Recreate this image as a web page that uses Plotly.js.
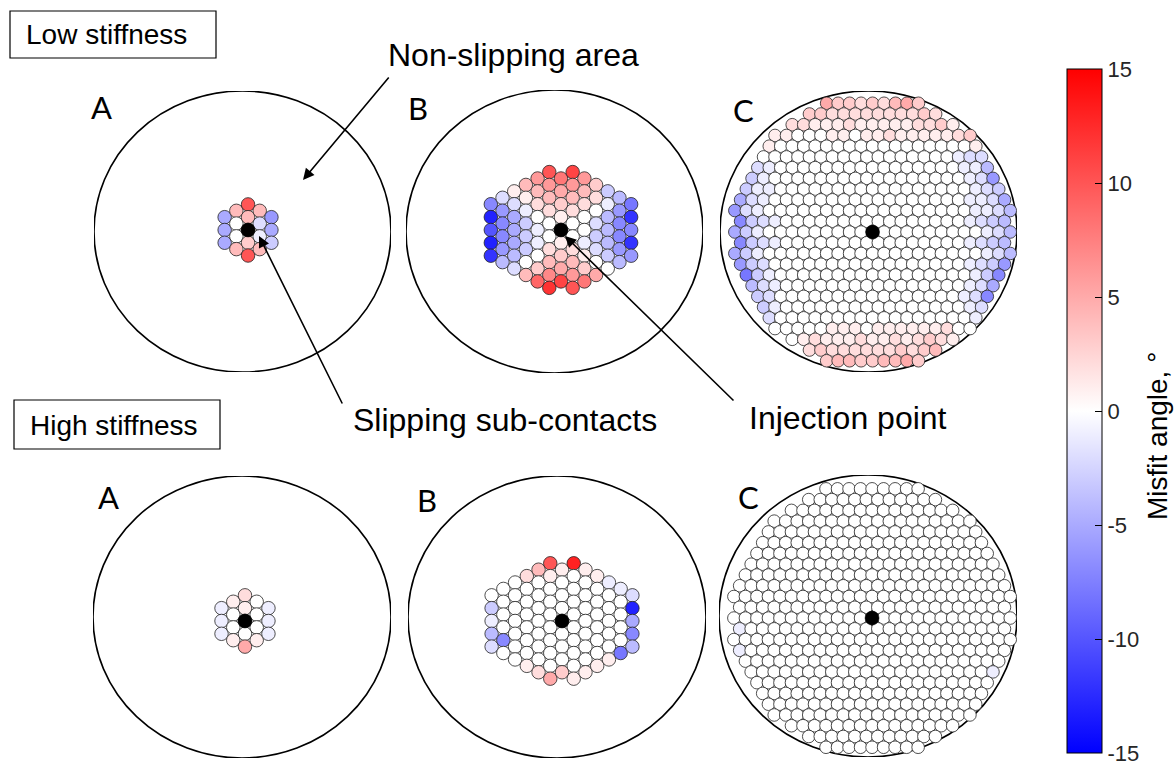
<!DOCTYPE html>
<html><head><meta charset="utf-8">
<script src="https://cdn.plot.ly/plotly-3.0.1.min.js"></script>
<style>html,body{margin:0;padding:0;background:#fff;}#chart{width:1175px;height:770px;}</style>
</head><body><div id="chart"></div>
<script>
// ================= DATA (misfit angle, degrees) =================
const misfitRange = [-15, 15];
const colorbarTicks = [-15, -10, -5, 0, 5, 10, 15];
const colorbarTickText = ['-15', '-10', '-5', '0', '5', '10', '15'];
const colorbarTitle = 'Misfit angle, °';
const panelLetters = ['A', 'B', 'C', 'A', 'B', 'C'];
const stiffnessLabels = ['Low stiffness', 'High stiffness'];
const calloutLabels = ['Non-slipping area', 'Slipping sub-contacts', 'Injection point'];

// Stage A: columns of sub-contacts (left -> right, each listed top -> bottom)
const aLowCols = [
  [-5, -5, -5],
  [4, 0, 0, 4],
  [10, 4, 0, 3, 10],
  [4, -2, -1, 4],
  [-6, -5, -3]
];
const aHighCols = [
  [-1, -1, -1],
  [1, 0, 0, 1],
  [2, 1, 0, 0, 5],
  [0, 0, 0, 1],
  [-1, -1, -1]
];

// Stage B: columns of sub-contacts (left -> right, each listed top -> bottom)
const bLowCols = [
  [-7, -13, -10, -13, -12],
  [-2, -6, -7, -7, -6, -4],
  [1, -2, -5, -5, -5, -4, -2],
  [4, 1, -1, -3, -3, -3, 0, 4],
  [6, 4, 2, 0, -1, -1, 0, 3, 9],
  [10, 6, 4, 2, 0, 0, 2, 4, 7, 12],
  [8, 5, 3, 1, 0, 1, 3, 5, 11],
  [11, 6, 4, 2, 0, 0, 2, 4, 6, 10],
  [6, 4, 2, 0, 0, -1, 1, 3, 8],
  [3, 2, 0, -2, -3, -2, 0, 5],
  [-3, -1, -4, -4, -4, -3, 0],
  [-4, -6, -7, -7, -6, -4],
  [-8, -12, -7, -12, -6]
];
const bHighCols = [
  [0, -3, -1, -4, -2],
  [0, 0, 0, 0, -7, 0],
  [0, 0, 0, 0, 0, 0, 0],
  [2, 0, 0, 0, 0, 0, 0, 1],
  [4, 0, 0, 0, 0, 0, 0, 0, 2],
  [10, 1, 0, 0, 0, 0, 0, 0, 0, 5],
  [1, 0, 0, 0, 0, 0, 0, 0, 3],
  [13, 0, 0, 0, 0, 0, 0, 0, 0, 1],
  [1, 0, 0, 0, 0, 0, 0, 0, 1],
  [1, 0, 0, 0, 0, 0, 0, 1],
  [-1, 0, 0, 0, 0, 0, 1],
  [-1, 0, 0, 0, 0, -8],
  [-2, -13, -5, -7, -4]
];

// Stage C: rows of sub-contacts (top -> bottom, each listed left -> right)
const cLowRows = [
  [5,3,3,2,3,2,4,5,3],
  [3,3,2,2,2,2,2,2,2,2,3,2],
  [2,2,1,1,1,2,1,1,1,1,1,2,2,3,1],
  [1,1,0,0,0,1,1,0,1,1,2,1,1,1,1,1,2,3],
  [1, 0,0,0,0, 0,0,0,0, 0,0,0,0, 0,0,0,0, 0, 1],
  [0,0,0,0, 0,0,0,0, 0,0,0,0, 0,0,0,0, 0, -1,-2,-2],
  [-2,-1, 0,0,0,0, 0,0,0,0, 0,0,0,0, 0,0,0,0, -1,-1,-4],
  [-3,-1, 0,0,0,0, 0,0,0,0, 0,0,0,0, 0,0,0,0, 0, -1,-2,-6],
  [-3,-1,-1, 0,0,0,0, 0,0,0,0, 0,0,0,0, 0,0,0,0, 0, -1,-2,-3],
  [-5,-2,-1, 0,0,0,0, 0,0,0,0, 0,0,0,0, 0,0,0,0, 0, -1,-1,-2,-5],
  [-6,-2,-1, 0,0,0,0, 0,0,0,0, 0,0,0,0, 0,0,0,0, 0,0, -1,-1,-2,-4],
  [-7,-3,-2,-1, 0,0,0,0, 0,0,0,0, 0,0,0,0, 0,0,0,0, -1,-2,-3,-4],
  [-5,-3,-1, 0,0,0,0, 0,0,0,0, 0,0,0,0, 0,0,0,0, 0,0,0, -1,-2,-4],
  [-7,-3,-2,-1, 0,0,0,0, 0,0,0,0, 0,0,0,0, 0,0,0,0, -1,-2,-3,-4],
  [-5,-3,-1, 0,0,0,0, 0,0,0,0, 0,0,0,0, 0,0,0,0, 0,0,0, -1,-2,-4],
  [-6,-3,-2, 0,0,0,0, 0,0,0,0, 0,0,0,0, 0,0,0,0, 0, -1,-2,-3,-6],
  [-8,-3,-1, 0,0,0,0, 0,0,0,0, 0,0,0,0, 0,0,0,0, 0, -1,-3,-7],
  [-4,-2,-1, 0,0,0,0, 0,0,0,0, 0,0,0,0, 0,0,0,0, -1,-2,-5],
  [-3,-2, 0,0,0,0, 0,0,0,0, 0,0,0,0, 0,0,0,0, -1,-2,-7],
  [-3,-1, 0,0,0,0, 0,0,0,0, 0,0,0,0, 0,0,0,0, -1,-2],
  [-2, 0,0,0,0, 0,0,0,0, 0,0,0,0, 0,0,0,0, 0, -1],
  [0,0,0,0,0,1,1,1,0,1,1,1,1,1,1,2,0,0],
  [0,1,2,1,1,1,2,1,1,2,1,2,3,2,1],
  [2,3,2,2,2,2,2,2,3,2,3,4],
  [3,4,4,3,3,4,4,5,3]
];
const cHighRows = [
  [0,0,0,0, 0,0,0,0, 0],
  [0,0,0,0, 0,0,0,0, 0,0,0,0],
  [0,0,0,0, 0,0,0,0, 0,0,0,0, 0,0,0],
  [0,0,0,0, 0,0,0,0, 0,0,0,0, 0,0,0,0, 0,0],
  [0,0,0,0, 0,0,0,0, 0,0,0,0, 0,0,0,0, 0,0,0],
  [0,0,0,0, 0,0,0,0, 0,0,0,0, 0,0,0,0, 0,0,0,0],
  [0,0,0,0, 0,0,0,0, 0,0,0,0, 0,0,0,0, 0,0,0,0, 0],
  [0,0,0,0, 0,0,0,0, 0,0,0,0, 0,0,0,0, 0,0,0,0, 0,0],
  [0,0,0,0, 0,0,0,0, 0,0,0,0, 0,0,0,0, 0,0,0,0, 0,0,0],
  [0,0,0,0, 0,0,0,0, 0,0,0,0, 0,0,0,0, 0,0,0,0, 0,0,0,0],
  [0,0,0,0, 0,0,0,0, 0,0,0,0, 0,0,0,0, 0,0,0,0, 0,0,0,0, 0],
  [0,0,0,0, 0,0,0,0, 0,0,0,0, 0,0,0,0, 0,0,0,0, 0,0,0,0],
  [0,0,0,0, 0,0,0,0, 0,0,0,0, 0,0,0,0, 0,0,0,0, 0,0,0,0, 0],
  [-1,0,0,0, 0,0,0,0, 0,0,0,0, 0,0,0,0, 0,0,0,0, 0,0,0,0],
  [0,0,0,0, 0,0,0,0, 0,0,0,0, 0,0,0,0, 0,0,0,0, 0,0,0,0, 0],
  [-1,0,0,0, 0,0,0,0, 0,0,0,0, 0,0,0,0, 0,0,0,0, 0,0,0,0],
  [0,0,0,0, 0,0,0,0, 0,0,0,0, 0,0,0,0, 0,0,0,0, 0,0,0],
  [0,0,0,0, 0,0,0,0, 0,0,0,0, 0,0,0,0, 0,0,0,0, 0,-1],
  [0,0,0,0, 0,0,0,0, 0,0,0,0, 0,0,0,0, 0,0,0,0, 0],
  [0,0,0,0, 0,0,0,0, 0,0,0,0, 0,0,0,0, 0,0,0,0],
  [0,0,0,0, 0,0,0,0, 0,0,0,0, 0,0,0,0, 0,0,0],
  [0,0,0,0, 0,0,0,0, 0,0,0,0, 0,0,0,0, 0,0],
  [0,0,0,0, 0,0,0,0, 0,0,0,0, 0,0,0],
  [0,0,0,0, 0,0,0,0, 0,0,0,0],
  [0,0,0,0, 0,0,0,0, 0]
];

// ================= GEOMETRY / STYLE =================
const W = 1175, H = 770;
const SPECIMEN_R = 11;               // specimen radius in sub-contact units
const COL_DX = 0.866, COL_DY = 1.0;  // column lattice spacing (stages A, B)
const ROW_DX = 0.85, ROW_DY = 0.84;  // row lattice spacing (stage C)
const px = v => v / W, py = v => 1 - v / H;

const panels = [
  {data: aLowCols,  kind: 'cols', box: [94, 91, 391, 372],  off: [0.41, 0.12],  size: 13.5},
  {data: bLowCols,  kind: 'cols', box: [406, 90, 703, 373], off: [0.48, 0.12],  size: 13.5},
  {data: cLowRows,  kind: 'rows', box: [720, 91, 1017, 372], off: [0.3, -0.04], size: 12.6},
  {data: aHighCols, kind: 'cols', box: [93, 476, 391, 758], off: [0.22, -0.31], size: 13.5},
  {data: bHighCols, kind: 'cols', box: [408, 476, 706, 758], off: [0.37, -0.31], size: 13.5},
  {data: cHighRows, kind: 'rows', box: [719, 475, 1017, 757], off: [0.3, -0.16], size: 12.6}
];
const letterPos = [[101, 107], [418, 108], [743, 110], [108, 497], [427, 500], [748, 497]];

function lattice(p) {
  const x = [], y = [], v = [];
  const d = p.data, n = d.length;
  d.forEach((line, i) => {
    const m = line.length;
    line.forEach((val, k) => {
      if (p.kind === 'cols') {
        x.push(p.off[0] + (i - (n - 1) / 2) * COL_DX);
        y.push(p.off[1] + ((m - 1) / 2 - k) * COL_DY);
      } else {
        x.push(p.off[0] + (k - (m - 1) / 2) * ROW_DX);
        y.push(p.off[1] + ((n - 1) / 2 - i) * ROW_DY);
      }
      v.push(val);
    });
  });
  return {x, y, v};
}

const colorscale = [[0, 'rgb(0,0,255)'], [0.5, 'rgb(255,255,255)'], [1, 'rgb(255,0,0)']];
const txtFont = 'Liberation Sans, Arial, Helvetica, sans-serif';

const traces = [], shapes = [], annotations = [];
const layout = {
  width: W, height: H, margin: {l: 0, r: 0, t: 0, b: 0},
  paper_bgcolor: '#fff', plot_bgcolor: 'rgba(0,0,0,0)', showlegend: false,
  font: {family: txtFont, color: '#000'}
};

panels.forEach((p, k) => {
  const s = k === 0 ? '' : String(k + 1);
  const [bx0, by0, bx1, by1] = p.box;
  layout['xaxis' + s] = {domain: [px(bx0), px(bx1)], range: [-SPECIMEN_R, SPECIMEN_R], visible: false, fixedrange: true, anchor: 'y' + s};
  layout['yaxis' + s] = {domain: [py(by1), py(by0)], range: [-SPECIMEN_R, SPECIMEN_R], visible: false, fixedrange: true, anchor: 'x' + s};
  shapes.push({type: 'circle', xref: 'x' + s, yref: 'y' + s, x0: -SPECIMEN_R, x1: SPECIMEN_R, y0: -SPECIMEN_R, y1: SPECIMEN_R,
    line: {color: '#000', width: 1.6}, layer: 'below'});
  const L = lattice(p);
  const tr = {
    type: 'scatter', mode: 'markers', x: L.x, y: L.y, xaxis: 'x' + s, yaxis: 'y' + s, hoverinfo: 'skip',
    marker: {size: p.size, color: L.v, cmin: misfitRange[0], cmax: misfitRange[1], colorscale: colorscale,
      line: {color: '#222', width: 0.8}, showscale: k === 0}
  };
  if (k === 0) {
    tr.marker.colorbar = {
      x: px(1067), xanchor: 'left', y: py(411), yanchor: 'middle',
      len: 684, lenmode: 'pixels', thickness: 35, thicknessmode: 'pixels',
      xpad: 0, ypad: 0, outlinewidth: 1, outlinecolor: '#000',
      tickmode: 'array', tickvals: colorbarTicks, ticktext: colorbarTickText,
      ticks: 'inside', ticklen: 7, tickcolor: '#000', tickwidth: 1,
      ticklabeloverflow: 'allow',
      tickfont: {family: txtFont, size: 22, color: '#262626'},
      title: {text: ''}
    };
  }
  traces.push(tr);
  // injection point
  traces.push({type: 'scatter', mode: 'markers', x: [p.off[0]], y: [p.off[1]], xaxis: 'x' + s, yaxis: 'y' + s,
    hoverinfo: 'skip', marker: {size: 14, color: '#000', line: {color: '#000', width: 0.5}}});
  annotations.push({xref: 'paper', yref: 'paper', x: px(letterPos[k][0]), y: py(letterPos[k][1]),
    text: panelLetters[k], showarrow: false, xanchor: 'center', yanchor: 'middle',
    font: {family: 'Lato, Open Sans, sans-serif', size: 31, color: '#000'}});
});

// colorbar title (rotated)
annotations.push({xref: 'paper', yref: 'paper', x: px(1157), y: py(436), text: colorbarTitle, textangle: -90,
  showarrow: false, xanchor: 'center', yanchor: 'middle', font: {size: 28}});

// stiffness boxes
shapes.push({type: 'rect', xref: 'paper', yref: 'paper', x0: px(10), x1: px(216), y0: py(58), y1: py(11), line: {color: '#000', width: 1.2}, fillcolor: '#fff'});
shapes.push({type: 'rect', xref: 'paper', yref: 'paper', x0: px(14), x1: px(220), y0: py(449), y1: py(400), line: {color: '#000', width: 1.2}, fillcolor: '#fff'});
annotations.push({xref: 'paper', yref: 'paper', x: px(24), y: py(35), text: stiffnessLabels[0], showarrow: false, xanchor: 'left', yanchor: 'middle', font: {size: 28}});
annotations.push({xref: 'paper', yref: 'paper', x: px(28), y: py(425), text: stiffnessLabels[1], showarrow: false, xanchor: 'left', yanchor: 'middle', font: {size: 28}});

// callout texts
annotations.push({xref: 'paper', yref: 'paper', x: px(513), y: py(55), text: calloutLabels[0], showarrow: false, xanchor: 'center', yanchor: 'middle', font: {size: 32}});
annotations.push({xref: 'paper', yref: 'paper', x: px(505), y: py(420), text: calloutLabels[1], showarrow: false, xanchor: 'center', yanchor: 'middle', font: {size: 32}});
annotations.push({xref: 'paper', yref: 'paper', x: px(848), y: py(418), text: calloutLabels[2], showarrow: false, xanchor: 'center', yanchor: 'middle', font: {size: 32}});

// arrows (head position, tail offset in px)
const arrows = [[303, 180, 87, -104], [259, 236, 84, 169], [565, 236, 170, 166]];
arrows.forEach(a => annotations.push({xref: 'paper', yref: 'paper', x: px(a[0]), y: py(a[1]), text: '',
  showarrow: true, ax: a[2], ay: a[3], axref: 'pixel', ayref: 'pixel', arrowhead: 2, arrowsize: 1.4, arrowwidth: 1.6, arrowcolor: '#000'}));

layout.shapes = shapes;
layout.annotations = annotations;
Plotly.newPlot('chart', traces, layout, {displayModeBar: false, staticPlot: true});
</script></body></html>
